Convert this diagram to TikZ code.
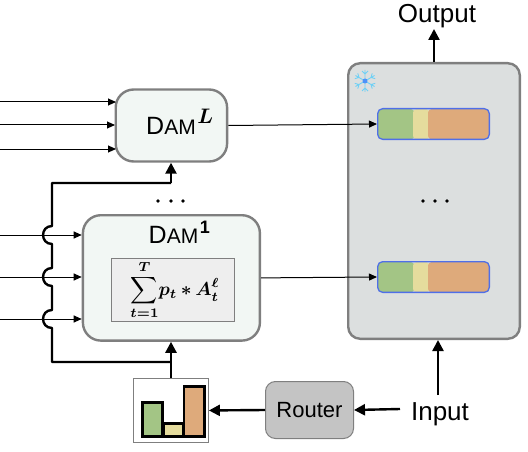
\documentclass[tikz,border=0pt]{standalone}
\usepackage{amsmath,amsbsy,graphicx}
\usepackage{fontspec}
\setmainfont{Liberation Sans}
\usetikzlibrary{arrows.meta,calc}
\definecolor{boxgray}{HTML}{7F7F7F}
\definecolor{damfill}{HTML}{F2F7F4}
\definecolor{frozen}{HTML}{DCDFDF}
\definecolor{routerfill}{HTML}{C4C4C4}
\definecolor{formulafill}{HTML}{EEEEEE}
\definecolor{cgreen}{HTML}{A3C585}
\definecolor{cyellow}{HTML}{E5DC9D}
\definecolor{corange}{HTML}{DEAA7B}
\definecolor{stripblue}{HTML}{4F6FE8}
\definecolor{flake}{HTML}{6FD0F5}
\newcommand{\damlabel}[1]{{\fontsize{25}{25}\selectfont D\fontsize{21}{21}\selectfont AM}#1}
\tikzset{
  x=1pt,y=-1pt,
  box/.style={draw=boxgray,line width=2.4pt,inner sep=0pt,anchor=north west},
  damstyle/.style={box,fill=damfill,rounded corners=18pt},
  thin arrow/.style={line width=1pt,-{Triangle[length=8pt,width=7pt]}},
  thick arrow/.style={line width=2.4pt,-{Triangle[length=11pt,width=11pt]}},
  route/.style={line width=2.4pt},
  biglabel/.style={font=\fontsize{26}{26}\selectfont,inner sep=0pt,anchor=base},
  cell/.style={inner sep=0pt,anchor=north west,rounded corners=3pt},
  barstyle/.style={draw=black,line width=2.8pt,inner sep=0pt,anchor=south west},
  dotstyle/.style={circle,fill=black,inner sep=0pt,minimum size=3.6pt},
}
\begin{document}
\begin{tikzpicture}
\useasboundingbox (0,0) rectangle (528,452);
% boxes
\node[damstyle,minimum width=111.4pt,minimum height=72pt] (damL) at (114.5,88.3) {};
\node[damstyle,minimum width=177pt,minimum height=125.4pt] (damO) at (81.7,214) {};
\node[box,fill=frozen,rounded corners=12pt,minimum width=171.6pt,minimum height=275.6pt] (bank) at (347,62) {};
\node[inner sep=0pt,anchor=base west] (damLtext) at (146,135) {\damlabel{\hspace{1.5pt}\raisebox{12pt}{\scalebox{2.1}{\boldmath$L$}}}};
\node[inner sep=0pt,anchor=base west] (damOtext) at (148.5,243.5) {\damlabel{\hspace{1.5pt}\raisebox{10pt}{\fontsize{18}{18}\selectfont\bfseries 1}}};
\node[draw=boxgray,line width=0.9pt,fill=formulafill,inner sep=0pt,anchor=north west,minimum width=123pt,minimum height=63pt] (formula) at (111,258) {};
\node[inner sep=0pt] (formulatext) at (175,290) {\scalebox{1.88}{\boldmath$\displaystyle\sum_{t=1}^{T}\!p_t\,{*}\,A_t^{\ell}$}};
% memory strips
\foreach \n/\y in {a/108,b/261}{
  \node[cell,fill=cgreen,minimum width=36pt,minimum height=30pt] (green\n) at (378,\y+1) {};
  \node[cell,fill=cyellow,minimum width=16pt,minimum height=30pt] (yellow\n) at (413,\y+1) {};
  \node[cell,fill=corange,minimum width=61pt,minimum height=30pt] (orange\n) at (428,\y+1) {};
  \node[draw=stripblue,line width=1.3pt,rounded corners=5pt,inner sep=0pt,anchor=north west,minimum width=111.7pt,minimum height=30.7pt] (strip\n) at (377,\y) {};
}
% snowflake
\coordinate (sf) at (365,81);
\foreach \a in {0,60,...,300}{
  \draw[flake,line width=0.9pt,rotate around={\a:(sf)}] (sf) -- ++(0,-11) ($(sf)+(0,-7)$) -- ++(-3,-3) ($(sf)+(0,-7)$) -- ++(3,-3);
}
\fill[flake!70!blue] (sf) circle (2.5pt);
% bottom row
\node[draw=boxgray,line width=1pt,fill=routerfill,rounded corners=10pt,inner sep=0pt,anchor=north west,minimum width=88pt,minimum height=57pt,font=\fontsize{22}{22}\selectfont] (router) at (265,381) {Router};
\node[draw=boxgray,line width=0.9pt,fill=white,inner sep=0pt,anchor=north west,minimum width=75pt,minimum height=64pt] (hist) at (133,378) {};
\node[barstyle,fill=cgreen,minimum width=20.2pt,minimum height=33.7pt] (barA) at (141,437.5) {};
\node[barstyle,fill=cyellow,minimum width=20.2pt,minimum height=12.7pt] (barB) at (161.8,437.5) {};
\node[barstyle,fill=corange,minimum width=20.7pt,minimum height=49.7pt] (barC) at (182.5,437.5) {};
\node[biglabel] (input) at (440,420.5) {Input};
\node[biglabel] (output) at (437,22.5) {Output};
% dots
\foreach \x/\n in {158/a,171/b,183/c}{\node[dotstyle] (d\n) at (\x,201) {};}
\foreach \x/\n in {423/a,435/b,447/c}{\node[dotstyle] (e\n) at (\x,201) {};}
% free ends
\foreach \n/\y in {p/102,q/125,r/149,s/235,u/277,v/319}{\coordinate (in\n) at (0,\y);}
\coordinate (mid) at (171,362);
\coordinate (busB) at (52,362);
\coordinate (busT) at (52,183);
\coordinate (busR) at (171,183);
\coordinate (inA) at (438,395);
\coordinate (rI) at (400,409);
\coordinate (outX) at (434,29);
% input arrows
\draw[thin arrow] (inp) -- (116,102);
\draw[thin arrow] (inq) -- (115,125);
\draw[thin arrow] (inr) -- (116,149);
\draw[thin arrow] (ins) -- (ins -| damO.west);
\draw[thin arrow] (inu) -- (inu -| damO.west);
\draw[thin arrow] (inv) -- (inv -| damO.west);
% outputs
\draw[thin arrow] (damL.east) -- (stripa.west);
\draw[thin arrow] (damO.east) -- (stripb.west);
% routing bus with hops
\draw[route,line join=round] (mid) -- (busB)
  -- (52,328) to[out=180,in=180,looseness=1.7] (52,310)
  -- (52,286) to[out=180,in=180,looseness=1.7] (52,268)
  -- (52,244) to[out=180,in=180,looseness=1.7] (52,226)
  -- (busT) -- (busR);
\draw[thick arrow] (busR) -- (damL.south -| busR);
\draw[thick arrow] (hist.north -| mid) -- (damO.south -| mid);
% bottom arrows
\draw[thick arrow] (rI) -- (router.east);
\draw[thick arrow] (router.west) -- (hist.east);
\draw[thick arrow] (inA) -- (inA |- bank.south);
\draw[thick arrow] (bank.north -| outX) -- (outX);
\end{tikzpicture}
\end{document}
